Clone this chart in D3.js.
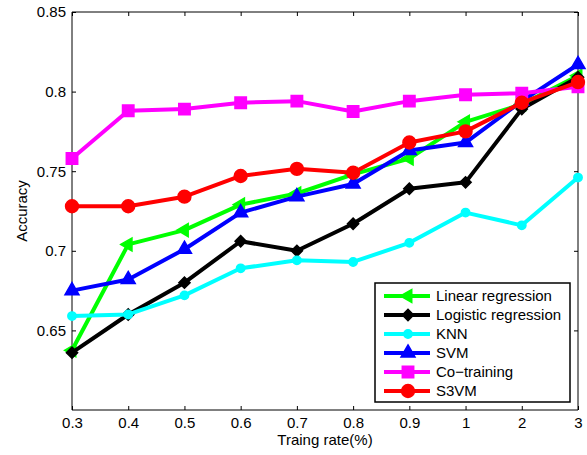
<!DOCTYPE html>
<html>
<head>
<meta charset="utf-8">
<script src="https://cdn.jsdelivr.net/npm/d3@7"></script>
<style>
  body { margin: 0; background: #fff; }
  text { font-family: "Liberation Sans", Arial, sans-serif; }
</style>
</head>
<body>
<svg id="chart" width="587" height="455"></svg>
<script>
const rates = ["0.3", "0.4", "0.5", "0.6", "0.7", "0.8", "0.9", "1", "2", "3"];
const yTicks = [0.65, 0.7, 0.75, 0.8, 0.85];

const linearReg = [0.6375, 0.704, 0.713, 0.729, 0.736, 0.748, 0.758, 0.781, 0.792, 0.810];
const logisticReg = [0.636, 0.660, 0.680, 0.706, 0.700, 0.717, 0.739, 0.743, 0.789, 0.809];
const knn = [0.659, 0.660, 0.672, 0.689, 0.694, 0.693, 0.705, 0.724, 0.716, 0.746];
const svm = [0.675, 0.682, 0.701, 0.724, 0.734, 0.742, 0.763, 0.768, 0.794, 0.817];
const coTraining = [0.758, 0.788, 0.789, 0.793, 0.794, 0.7875, 0.794, 0.798, 0.799, 0.803];
const s3vm = [0.728, 0.728, 0.734, 0.747, 0.7515, 0.749, 0.768, 0.775, 0.793, 0.806];

const series = [
  {name: "Linear regression", values: linearReg, color: "#00ff00", marker: "left"},
  {name: "Logistic regression", values: logisticReg, color: "#000000", marker: "diamond"},
  {name: "KNN", values: knn, color: "#00ffff", marker: "dot"},
  {name: "SVM", values: svm, color: "#0000ff", marker: "up"},
  {name: "Co\u2212training", values: coTraining, color: "#ff00ff", marker: "square"},
  {name: "S3VM", values: s3vm, color: "#ff0000", marker: "circle"}
];

const margin = {top: 12, right: 9, bottom: 45, left: 72};
const width = 587, height = 455;
const fontSize = 15;

const svg = d3.select("#chart");

const x = d3.scalePoint(rates, [margin.left, width - margin.right]);
const y = d3.scaleLinear([0.6, 0.85], [height - margin.bottom, margin.top]);

const fmt = d => String(+d.toFixed(2));

// axes (ticks inward like matlab)
svg.append("g")
    .attr("transform", `translate(0,${height - margin.bottom})`)
    .call(d3.axisBottom(x).tickSize(-4).tickPadding(7))
    .call(g => g.select(".domain").attr("d", `M${margin.left},0H${width - margin.right}`));

svg.append("g")
    .attr("transform", `translate(0,${margin.top})`)
    .call(d3.axisTop(x).tickSize(-4).tickFormat(""))
    .call(g => g.select(".domain").attr("d", `M${margin.left},0H${width - margin.right}`));

svg.append("g")
    .attr("transform", `translate(${margin.left},0)`)
    .call(d3.axisLeft(y).tickValues(yTicks).tickFormat(fmt).tickSize(-4).tickPadding(6))
    .call(g => g.select(".domain").attr("d", `M0,${margin.top}V${height - margin.bottom}`));

svg.append("g")
    .attr("transform", `translate(${width - margin.right},0)`)
    .call(d3.axisRight(y).tickValues(yTicks).tickFormat("").tickSize(-4))
    .call(g => g.select(".domain").attr("d", `M0,${margin.top}V${height - margin.bottom}`));

svg.selectAll(".tick text").attr("font-size", fontSize).attr("fill", "#000")
    .attr("font-family", "Liberation Sans, Arial, sans-serif");
svg.selectAll(".domain, .tick line").attr("stroke", "#000");

svg.append("text")
    .attr("x", (margin.left + width - margin.right) / 2)
    .attr("y", 445)
    .attr("text-anchor", "middle")
    .attr("font-size", fontSize)
    .text("Traing rate(%)");

svg.append("text")
    .attr("transform", `translate(27,${(margin.top + height - margin.bottom) / 2}) rotate(-90)`)
    .attr("text-anchor", "middle")
    .attr("font-size", fontSize)
    .text("Accuracy");

const symbols = {
  left: d3.symbol(d3.symbolTriangle2, 120),
  diamond: d3.symbol(d3.symbolSquare2, 80),
  dot: d3.symbol(d3.symbolCircle, 55),
  up: d3.symbol(d3.symbolTriangle2, 140),
  square: d3.symbol(d3.symbolSquare, 130),
  circle: d3.symbol(d3.symbolCircle, 130)
};
const rotation = {left: -90, diamond: 45, dot: 0, up: 0, square: 0, circle: 0};

const drawMarker = (sel, s) => sel
    .attr("d", symbols[s.marker]())
    .attr("fill", s.color)
    .attr("stroke", s.color)
    .attr("stroke-width", 1.5);

const line = d3.line()
    .x((d, i) => x(rates[i]))
    .y(d => y(d));

const plot = svg.append("g");
series.forEach(s => {
  const g = plot.append("g");
  g.append("path")
      .attr("fill", "none")
      .attr("stroke", s.color)
      .attr("stroke-width", 4)
      .attr("stroke-linejoin", "round")
      .attr("d", line(s.values));
  g.selectAll("path.m")
    .data(s.values)
    .join("path")
      .attr("class", "m")
      .attr("transform", (d, i) => `translate(${x(rates[i])},${y(d)}) rotate(${rotation[s.marker]})`)
      .call(drawMarker, s);
});

// legend
const lg = svg.append("g").attr("transform", "translate(375,283)");
lg.append("rect")
    .attr("width", 195).attr("height", 119)
    .attr("fill", "#fff").attr("stroke", "#000").attr("stroke-width", 1.5);
series.forEach((s, i) => {
  const row = lg.append("g").attr("transform", `translate(0,${13 + i * 19})`);
  row.append("line")
      .attr("x1", 9).attr("x2", 55)
      .attr("stroke", s.color).attr("stroke-width", 4);
  row.append("path")
      .attr("transform", `translate(33,0) rotate(${rotation[s.marker]})`)
      .call(drawMarker, s);
  row.append("text")
      .attr("x", 61).attr("dy", "0.35em")
      .attr("font-size", fontSize)
      .text(s.name);
});
</script>
</body>
</html>
